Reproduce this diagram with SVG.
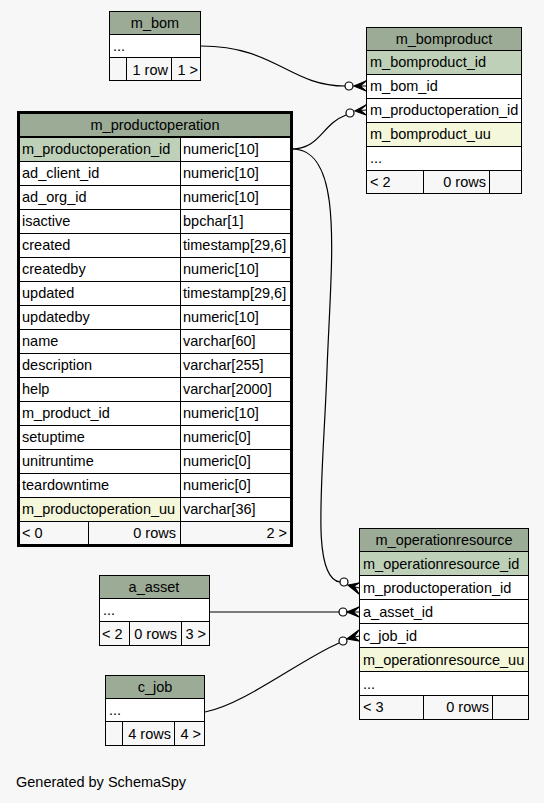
<svg xmlns="http://www.w3.org/2000/svg" width="544" height="803" viewBox="0 0 544 803">
<style>
text{font-family:"Liberation Sans",Arial,sans-serif;font-size:14.5px;fill:#000}
.c{text-anchor:middle}
.r{text-anchor:end}
.hd{fill:#9bab96;stroke:#000;stroke-width:1}
.pk{fill:#bed1b8;stroke:#000;stroke-width:1}
.uu{fill:#f4f7da;stroke:#000;stroke-width:1}
.rw{fill:#ffffff;stroke:#000;stroke-width:1}
.ft{fill:#f7f7f7;stroke:#000;stroke-width:1}
.thick{fill:none;stroke:#000;stroke-width:3}
.edge{fill:none;stroke:#000;stroke-width:1.2}
.dot{fill:#fff;stroke:#000;stroke-width:1.2}
.crow{fill:#000;stroke:#000;stroke-width:1.2}
</style>
<rect x="0" y="0" width="544" height="803" fill="#f7f7f7"/>

<g id="connectors">
  <path class="edge" d="M201,46 C275,46 290,86 345,86"/>
  <circle class="dot" cx="349" cy="86" r="4"/>
  <path class="crow" d="M366,81 L354,86 L366,91 L360,86 Z M354,86 L366,86"/>
  <path class="edge" d="M292,149 C320,149 322,124 346,115"/>
  <circle class="dot" cx="350" cy="113" r="4"/>
  <path class="crow" d="M366,105 L355,111 L366,115 L360,110 Z M355,111 L366,110"/>
  <path class="edge" d="M292,149 C345,149 331,260 327,370 C323,480 310,578 340,582"/>
  <circle class="dot" cx="344" cy="582" r="4"/>
  <path class="crow" d="M359,583 L348,585 L359,594 L354,586 Z M348,585 L359,588"/>
  <path class="edge" d="M210,612 L339,612"/>
  <circle class="dot" cx="343" cy="612" r="4"/>
  <path class="crow" d="M359,607 L347,612 L359,617 L353,612 Z M347,612 L359,612"/>
  <path class="edge" d="M205,712 C245,704 300,660 339,643"/>
  <circle class="dot" cx="343" cy="641" r="4"/>
  <path class="crow" d="M359,630 L347,639 L359,641 L354,637 Z M347,639 L359,636"/>
</g>

<g id="m_bom">
  <rect class="hd" x="109.5" y="11.5" width="91" height="23"/>
  <text class="c" x="155" y="28">m_bom</text>
  <rect class="rw" x="109.5" y="34.5" width="91" height="23"/>
  <text x="113" y="51">...</text>
  <rect class="ft" x="109.5" y="57.5" width="17" height="23"/>
  <rect class="ft" x="126.5" y="57.5" width="45" height="23"/>
  <rect class="ft" x="171.5" y="57.5" width="29" height="23"/>
  <text class="r" x="168" y="75">1 row</text>
  <text class="r" x="198" y="75">1 &gt;</text>
</g>

<g id="m_bomproduct">
  <rect class="hd" x="366.5" y="27.5" width="155" height="23"/>
  <text class="c" x="444" y="44">m_bomproduct</text>
  <rect class="pk" x="366.5" y="50.5" width="155" height="24"/>
  <text x="370" y="67">m_bomproduct_id</text>
  <rect class="rw" x="366.5" y="74.5" width="155" height="24"/>
  <text x="370" y="91">m_bom_id</text>
  <rect class="rw" x="366.5" y="98.5" width="155" height="24"/>
  <text x="370" y="115">m_productoperation_id</text>
  <rect class="uu" x="366.5" y="122.5" width="155" height="24"/>
  <text x="370" y="139">m_bomproduct_uu</text>
  <rect class="rw" x="366.5" y="146.5" width="155" height="24"/>
  <text x="370" y="163">...</text>
  <rect class="ft" x="366.5" y="170.5" width="57" height="23"/>
  <rect class="ft" x="423.5" y="170.5" width="66" height="23"/>
  <rect class="ft" x="489.5" y="170.5" width="32" height="23"/>
  <text x="370" y="187">&lt; 2</text>
  <text class="r" x="486" y="187">0 rows</text>
</g>

<g id="m_productoperation">
  <rect class="thick" x="18.5" y="112.5" width="273" height="433"/>
  <rect class="hd" x="19.5" y="113.5" width="271" height="23"/>
  <text class="c" x="155" y="130">m_productoperation</text>
  <rect class="pk" x="19.5" y="137.5" width="161" height="24"/>
  <rect class="rw" x="180.5" y="137.5" width="110" height="24"/>
  <text x="22" y="154">m_productoperation_id</text><text x="183" y="154">numeric[10]</text>
  <rect class="rw" x="19.5" y="161.5" width="161" height="24"/><rect class="rw" x="180.5" y="161.5" width="110" height="24"/>
  <text x="22" y="178">ad_client_id</text><text x="183" y="178">numeric[10]</text>
  <rect class="rw" x="19.5" y="185.5" width="161" height="24"/><rect class="rw" x="180.5" y="185.5" width="110" height="24"/>
  <text x="22" y="202">ad_org_id</text><text x="183" y="202">numeric[10]</text>
  <rect class="rw" x="19.5" y="209.5" width="161" height="24"/><rect class="rw" x="180.5" y="209.5" width="110" height="24"/>
  <text x="22" y="226">isactive</text><text x="183" y="226">bpchar[1]</text>
  <rect class="rw" x="19.5" y="233.5" width="161" height="24"/><rect class="rw" x="180.5" y="233.5" width="110" height="24"/>
  <text x="22" y="250">created</text><text x="183" y="250">timestamp[29,6]</text>
  <rect class="rw" x="19.5" y="257.5" width="161" height="24"/><rect class="rw" x="180.5" y="257.5" width="110" height="24"/>
  <text x="22" y="274">createdby</text><text x="183" y="274">numeric[10]</text>
  <rect class="rw" x="19.5" y="281.5" width="161" height="24"/><rect class="rw" x="180.5" y="281.5" width="110" height="24"/>
  <text x="22" y="298">updated</text><text x="183" y="298">timestamp[29,6]</text>
  <rect class="rw" x="19.5" y="305.5" width="161" height="24"/><rect class="rw" x="180.5" y="305.5" width="110" height="24"/>
  <text x="22" y="322">updatedby</text><text x="183" y="322">numeric[10]</text>
  <rect class="rw" x="19.5" y="329.5" width="161" height="24"/><rect class="rw" x="180.5" y="329.5" width="110" height="24"/>
  <text x="22" y="346">name</text><text x="183" y="346">varchar[60]</text>
  <rect class="rw" x="19.5" y="353.5" width="161" height="24"/><rect class="rw" x="180.5" y="353.5" width="110" height="24"/>
  <text x="22" y="370">description</text><text x="183" y="370">varchar[255]</text>
  <rect class="rw" x="19.5" y="377.5" width="161" height="24"/><rect class="rw" x="180.5" y="377.5" width="110" height="24"/>
  <text x="22" y="394">help</text><text x="183" y="394">varchar[2000]</text>
  <rect class="rw" x="19.5" y="401.5" width="161" height="24"/><rect class="rw" x="180.5" y="401.5" width="110" height="24"/>
  <text x="22" y="418">m_product_id</text><text x="183" y="418">numeric[10]</text>
  <rect class="rw" x="19.5" y="425.5" width="161" height="24"/><rect class="rw" x="180.5" y="425.5" width="110" height="24"/>
  <text x="22" y="442">setuptime</text><text x="183" y="442">numeric[0]</text>
  <rect class="rw" x="19.5" y="449.5" width="161" height="24"/><rect class="rw" x="180.5" y="449.5" width="110" height="24"/>
  <text x="22" y="466">unitruntime</text><text x="183" y="466">numeric[0]</text>
  <rect class="rw" x="19.5" y="473.5" width="161" height="24"/><rect class="rw" x="180.5" y="473.5" width="110" height="24"/>
  <text x="22" y="490">teardowntime</text><text x="183" y="490">numeric[0]</text>
  <rect class="uu" x="19.5" y="497.5" width="161" height="24"/><rect class="rw" x="180.5" y="497.5" width="110" height="24"/>
  <text x="22" y="514">m_productoperation_uu</text><text x="183" y="514">varchar[36]</text>
  <rect class="ft" x="19.5" y="521.5" width="69" height="23"/>
  <rect class="ft" x="88.5" y="521.5" width="92" height="23"/>
  <rect class="ft" x="180.5" y="521.5" width="110" height="23"/>
  <text x="22" y="538">&lt; 0</text>
  <text class="r" x="176" y="538">0 rows</text>
  <text class="r" x="287" y="538">2 &gt;</text>
</g>

<g id="a_asset">
  <rect class="hd" x="99.5" y="575.5" width="110" height="23"/>
  <text class="c" x="154" y="592">a_asset</text>
  <rect class="rw" x="99.5" y="598.5" width="110" height="23"/>
  <text x="103" y="615">...</text>
  <rect class="ft" x="99.5" y="621.5" width="30" height="24"/>
  <rect class="ft" x="129.5" y="621.5" width="52" height="24"/>
  <rect class="ft" x="181.5" y="621.5" width="28" height="24"/>
  <text x="102" y="639">&lt; 2</text>
  <text class="r" x="177" y="639">0 rows</text>
  <text class="r" x="206" y="639">3 &gt;</text>
</g>

<g id="c_job">
  <rect class="hd" x="105.5" y="675.5" width="99" height="23"/>
  <text class="c" x="155" y="692">c_job</text>
  <rect class="rw" x="105.5" y="698.5" width="99" height="23"/>
  <text x="109" y="715">...</text>
  <rect class="ft" x="105.5" y="721.5" width="17" height="24"/>
  <rect class="ft" x="122.5" y="721.5" width="52" height="24"/>
  <rect class="ft" x="174.5" y="721.5" width="30" height="24"/>
  <text class="r" x="171" y="739">4 rows</text>
  <text class="r" x="201" y="739">4 &gt;</text>
</g>

<g id="m_operationresource">
  <rect class="hd" x="359.5" y="528.5" width="169" height="23"/>
  <text class="c" x="444" y="545">m_operationresource</text>
  <rect class="pk" x="359.5" y="551.5" width="169" height="24"/>
  <text x="363" y="569">m_operationresource_id</text>
  <rect class="rw" x="359.5" y="575.5" width="169" height="24"/>
  <text x="363" y="593">m_productoperation_id</text>
  <rect class="rw" x="359.5" y="599.5" width="169" height="24"/>
  <text x="363" y="617">a_asset_id</text>
  <rect class="rw" x="359.5" y="623.5" width="169" height="24"/>
  <text x="363" y="641">c_job_id</text>
  <rect class="uu" x="359.5" y="647.5" width="169" height="24"/>
  <text x="363" y="665">m_operationresource_uu</text>
  <rect class="rw" x="359.5" y="671.5" width="169" height="24"/>
  <text x="363" y="689">...</text>
  <rect class="ft" x="359.5" y="695.5" width="64" height="24"/>
  <rect class="ft" x="423.5" y="695.5" width="69" height="24"/>
  <rect class="ft" x="492.5" y="695.5" width="36" height="24"/>
  <text x="363" y="712">&lt; 3</text>
  <text class="r" x="489" y="712">0 rows</text>
</g>

<text x="16" y="787">Generated by SchemaSpy</text>
</svg>
